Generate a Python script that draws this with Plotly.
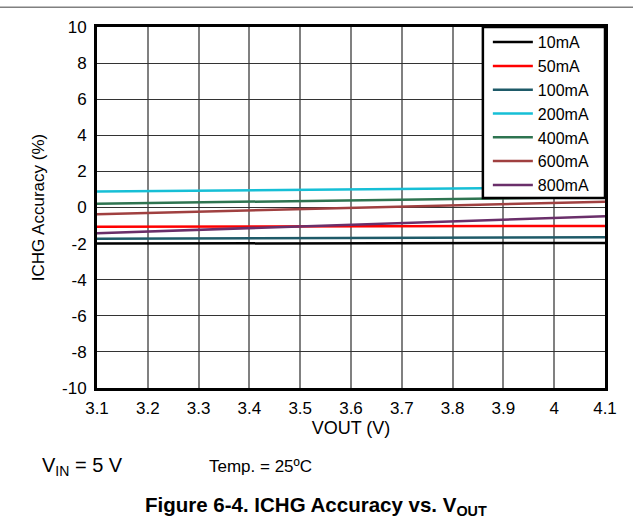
import plotly.graph_objects as go

vout = [3.1, 3.3, 3.5, 3.7, 3.9, 4.1]
names = ["10mA", "50mA", "100mA", "200mA", "400mA", "600mA", "800mA"]
acc_10 = [-2.00, -2.00, -1.99, -1.98, -1.97, -1.96]
acc_50 = [-1.07, -1.06, -1.05, -1.04, -1.03, -1.02]
acc_100 = [-1.73, -1.71, -1.69, -1.68, -1.66, -1.65]
acc_200 = [0.89, 0.93, 0.98, 1.02, 1.07, 1.12]
acc_400 = [0.21, 0.28, 0.36, 0.43, 0.51, 0.58]
acc_600 = [-0.37, -0.23, -0.09, 0.05, 0.19, 0.32]
acc_800 = [-1.42, -1.24, -1.06, -0.87, -0.68, -0.49]
colors = ["#000000", "#FF0000", "#1E5A68", "#16BFD6", "#2E7450", "#A04040", "#6A2F6A"]
series = [acc_10, acc_50, acc_100, acc_200, acc_400, acc_600, acc_800]

x_ticks = [3.1, 3.2, 3.3, 3.4, 3.5, 3.6, 3.7, 3.8, 3.9, 4.0, 4.1]
x_ticktext = ["3.1", "3.2", "3.3", "3.4", "3.5", "3.6", "3.7", "3.8", "3.9", "4", "4.1"]
y_ticks = [-10, -8, -6, -4, -2, 0, 2, 4, 6, 8, 10]
y_ticktext = ["-10", "-8", "-6", "-4", "-2", "0", "2", "4", "6", "8", "10"]

FONT = "Liberation Sans, Arial, sans-serif"

fig = go.Figure()
for n, s, c in zip(names, series, colors):
    fig.add_trace(go.Scatter(x=vout, y=s, name=n, mode="lines",
                             line=dict(color=c, width=2.5)))

fig.update_layout(
    width=633, height=519,
    margin=dict(l=97, r=28, t=27, b=131, autoexpand=False),
    paper_bgcolor="white", plot_bgcolor="white",
    font=dict(family=FONT, size=17, color="black"),
    showlegend=True,
    legend=dict(x=0.7694, y=1.005, xanchor="left", yanchor="top",
                bgcolor="rgba(0,0,0,0)", borderwidth=0,
                font=dict(size=16), tracegroupgap=0, itemwidth=40),
    xaxis=dict(range=[3.1, 4.1], tickvals=x_ticks, ticktext=x_ticktext,
               showgrid=True, gridcolor="#808080", gridwidth=1.5,
               showline=True, mirror=True, linecolor="black", linewidth=3,
               zeroline=False, ticks="", ticklabelstandoff=3, automargin=False,
               tickfont=dict(size=17),
               title=dict(text="VOUT (V)", standoff=4, font=dict(size=18))),
    yaxis=dict(range=[-10, 10], tickvals=y_ticks, ticktext=y_ticktext,
               showgrid=True, gridcolor="#333333", gridwidth=1,
               showline=True, mirror=True, linecolor="black", linewidth=3,
               zeroline=False, ticks="", ticklabelstandoff=4, automargin=False,
               tickfont=dict(size=17),
               title=dict(text="ICHG Accuracy (%)", standoff=14, font=dict(size=17))),
)

# legend frame (white box with black border over the plot)
fig.add_shape(type="rect", xref="paper", yref="paper", x0=0.7596, x1=1.0,
              y0=0.526, y1=1.0, fillcolor="white",
              line=dict(color="black", width=2.5), layer="above")

fig.add_shape(type="line", xref="paper", yref="paper", x0=-0.2, x1=1.1,
              y0=1.0546, y1=1.0546, line=dict(color="#808080", width=1.5))

fig.add_annotation(text="V<sub>IN</sub> = 5 V", xref="paper", yref="paper",
                   x=-0.1115, y=-0.2176, xanchor="left", yanchor="middle",
                   showarrow=False, font=dict(size=20))
fig.add_annotation(text="Temp. = 25ºC", xref="paper", yref="paper",
                   x=0.2169, y=-0.2176, xanchor="left", yanchor="middle",
                   showarrow=False, font=dict(size=17))
fig.add_annotation(text="<b>Figure 6-4. ICHG Accuracy vs. V<sub>OUT</sub></b>",
                   xref="paper", yref="paper", x=0.431, y=-0.3257,
                   xanchor="center", yanchor="middle",
                   showarrow=False, font=dict(size=20.5))

fig.write_html("out.html", config={"displayModeBar": False},
               post_script="document.body.style.margin='0';")
